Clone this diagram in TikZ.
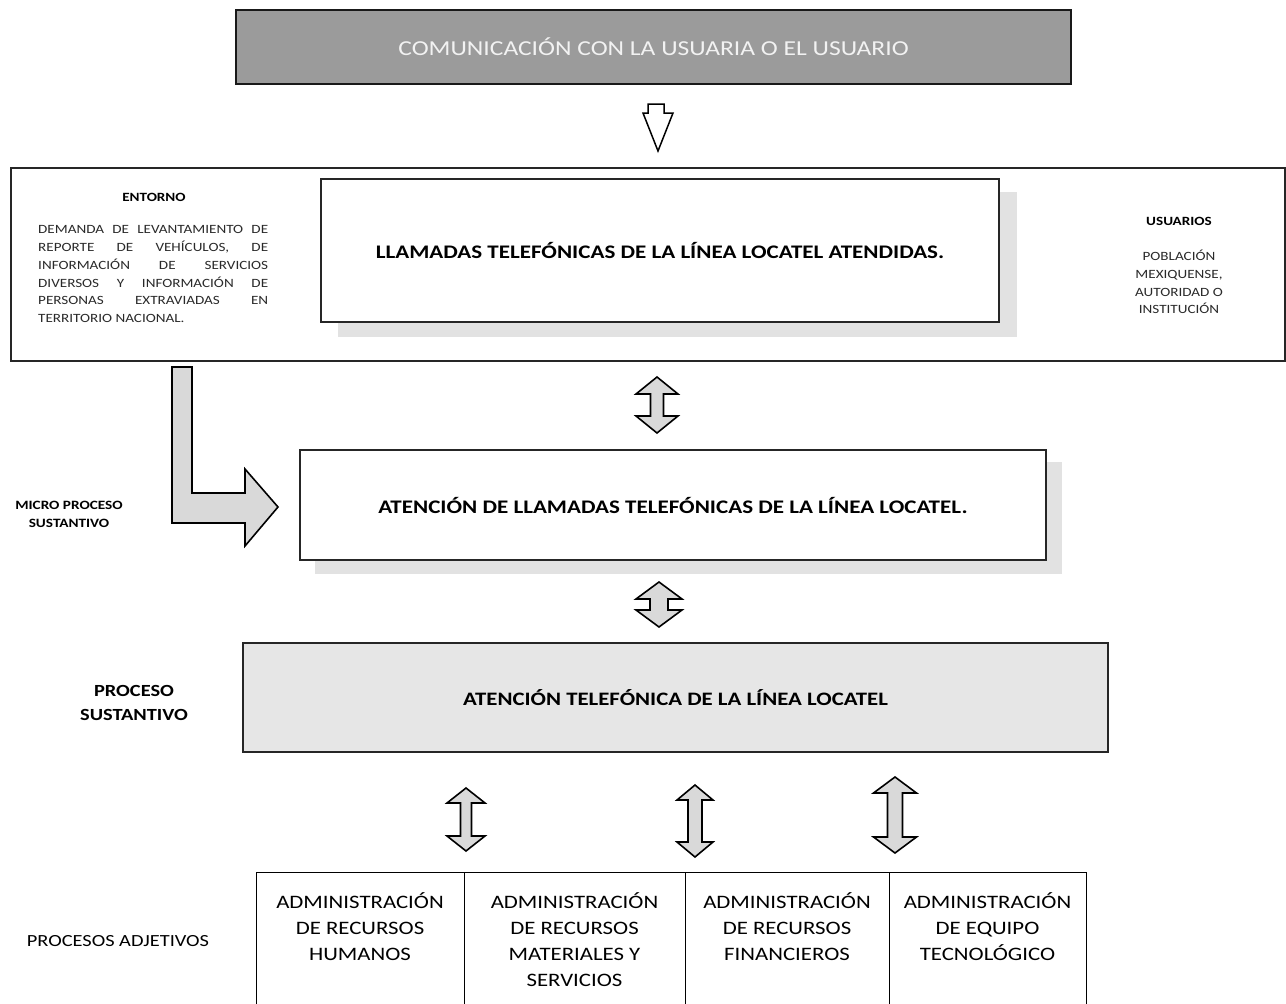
\documentclass[tikz,border=0pt]{standalone}
\usepackage{fontspec}
\setmainfont{Carlito}[FakeStretch=1.2]
\definecolor{topgray}{HTML}{9B9B9B}
\definecolor{shadowgray}{HTML}{E2E2E2}
\definecolor{arrowgray}{HTML}{D9D9D9}
\definecolor{procgray}{HTML}{E6E6E6}
\definecolor{toptext}{HTML}{F2F2F2}
\definecolor{parag}{HTML}{2A2A2A}
\newcommand\mydblarrow[6]{% cx, ytop, ybot, head half width, shaft half width, head length
  \draw[blockarrow] (#1,#2) -- (#1+#4,#2+#6) -- (#1+#5,#2+#6) -- (#1+#5,#3-#6)
    -- (#1+#4,#3-#6) -- (#1,#3) -- (#1-#4,#3-#6) -- (#1-#5,#3-#6)
    -- (#1-#5,#2+#6) -- (#1-#4,#2+#6) -- cycle;}
\tikzset{
  mainbox/.style={draw=black!85, line width=2pt, fill=white, inner sep=0pt},
  shadowbox/.style={fill=shadowgray, draw=none},
  blockarrow/.style={fill=arrowgray, draw=black, line width=1.6pt, line join=miter},
  txt/.style={inner sep=0pt, text=black},
  adjbox/.style={draw=black, line width=1pt, inner sep=0pt, minimum height=138pt},
}
\begin{document}
\begin{tikzpicture}[x=1pt,y=-1pt]
\useasboundingbox (0,0) rectangle (1286,1004);
\fill[white] (0,0) rectangle (1286,1004);

% top box
\node[draw=black!90, line width=2pt, fill=topgray, inner sep=0pt, minimum width=835pt, minimum height=74pt,
      text=toptext, font=\fontsize{21.3}{25}\selectfont] (top) at (653.5,47) {COMUNICACIÓN CON LA USUARIA O EL USUARIO};

% hollow down arrow
\draw[fill=white, draw=black, line width=1.5pt, line join=miter]
  (648,104) -- (664,104) -- (664,113) -- (673,113) -- (658,151) -- (643,113) -- (648,113) -- cycle;

% outer box
\node[draw=black!85, line width=2pt, inner sep=0pt, minimum width=1274pt, minimum height=193pt] (outer) at (648,264.5) {};

% box 1 with shadow
\fill[shadowbox] (338,192) rectangle (1017,337);
\node[mainbox, minimum width=678pt, minimum height=143pt, font=\bfseries\fontsize{19.2}{23}\selectfont] (llamadas) at (660,250.5)
  {LLAMADAS TELEFÓNICAS DE LA LÍNEA LOCATEL ATENDIDAS.};

% entorno
\node[txt, font=\bfseries\fontsize{12.6}{15}\selectfont] (entorno) at (154,197) {ENTORNO};
\node[txt, anchor=north west, text width=230pt, align=justify, text=parag,
      font=\fontsize{12.6}{17.9}\selectfont] (demanda) at (38,225)
  {DEMANDA DE LEVANTAMIENTO DE\linebreak REPORTE DE VEHÍCULOS, DE\linebreak INFORMACIÓN DE SERVICIOS\linebreak DIVERSOS Y INFORMACIÓN DE\linebreak PERSONAS EXTRAVIADAS EN\linebreak TERRITORIO NACIONAL.};

% usuarios
\node[txt, font=\bfseries\fontsize{12.6}{15}\selectfont] (usuarios) at (1179,221) {USUARIOS};
\node[txt, anchor=north, align=center, text=parag, font=\fontsize{12.6}{17.7}\selectfont] (poblacion) at (1179,250)
  {POBLACIÓN\\MEXIQUENSE,\\AUTORIDAD O\\INSTITUCIÓN};

% double arrow between outer and box 2
\mydblarrow{657}{377}{433}{21}{6.5}{17}

% L arrow
\draw[blockarrow] (172,367) -- (192,367) -- (192,493) -- (245,493) -- (245,469) -- (278,507)
  -- (245,546) -- (245,523) -- (172,523) -- cycle;
\node[txt, align=center, font=\bfseries\fontsize{12.7}{18}\selectfont] (micro) at (69,514) {MICRO PROCESO\\SUSTANTIVO};

% box 2 with shadow
\fill[shadowbox] (315,462) rectangle (1062,574);
\node[mainbox, minimum width=746pt, minimum height=110pt, font=\bfseries\fontsize{19.2}{23}\selectfont] (atencion) at (673,505)
  {ATENCIÓN DE LLAMADAS TELEFÓNICAS DE LA LÍNEA LOCATEL.};

% double arrow between box 2 and box 3
\mydblarrow{659}{582}{627}{23}{9}{17}

% box 3
\node[draw=black!85, line width=1.5pt, fill=procgray, inner sep=0pt, minimum width=865pt, minimum height=109pt,
      font=\bfseries\fontsize{19}{23}\selectfont] (proceso) at (675.5,697.5)
  {ATENCIÓN TELEFÓNICA DE LA LÍNEA LOCATEL};
\node[txt, align=center, font=\bfseries\fontsize{17}{24}\selectfont] (sustantivo) at (134,703) {PROCESO\\SUSTANTIVO};

% three double arrows
\mydblarrow{466}{788}{851}{19}{5.5}{15}
\mydblarrow{695}{785}{857}{18}{7}{15}
\mydblarrow{895}{777}{853}{21.5}{7.5}{16}

% bottom boxes
\node[adjbox, minimum width=208pt] (rh) at (360,941) {};
\node[adjbox, minimum width=221pt] (rm) at (574.5,941) {};
\node[adjbox, minimum width=204pt] (rf) at (787,941) {};
\node[adjbox, minimum width=197pt] (et) at (987.5,941) {};
\node[txt, anchor=north, align=center, font=\fontsize{19}{26}\selectfont] (trh) at (360,892) {ADMINISTRACIÓN\\DE RECURSOS\\HUMANOS};
\node[txt, anchor=north, align=center, font=\fontsize{19}{26}\selectfont] (trm) at (574.5,892) {ADMINISTRACIÓN\\DE RECURSOS\\MATERIALES Y\\SERVICIOS};
\node[txt, anchor=north, align=center, font=\fontsize{19}{26}\selectfont] (trf) at (787,892) {ADMINISTRACIÓN\\DE RECURSOS\\FINANCIEROS};
\node[txt, anchor=north, align=center, font=\fontsize{19}{26}\selectfont] (tet) at (987.5,892) {ADMINISTRACIÓN\\DE EQUIPO\\TECNOLÓGICO};
\node[txt, font=\fontsize{17}{20}\selectfont] (adjetivos) at (118,941) {PROCESOS ADJETIVOS};
\end{tikzpicture}
\end{document}
